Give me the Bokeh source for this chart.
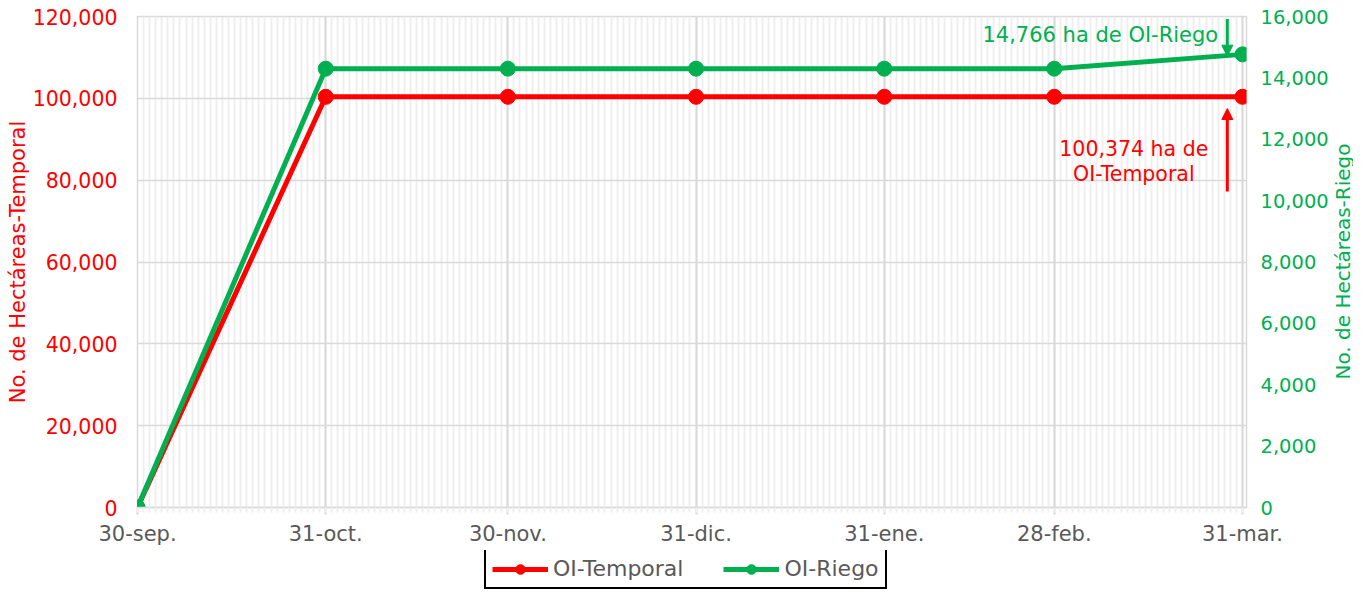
import math
import pandas as pd
from bokeh.plotting import figure
from bokeh.layouts import column, row
from bokeh.models import (Range1d, LinearAxis, FixedTicker, NumeralTickFormatter, Legend,
                          LegendItem, Label, Arrow, NormalHead, ColumnDataSource)
from bokeh.embed import file_html
from bokeh.resources import INLINE

# ---------------- data ----------------
dates = ["2022-09-30", "2022-10-31", "2022-11-30", "2022-12-31",
         "2023-01-31", "2023-02-28", "2023-03-31"]
date_labels = ["30-sep.", "31-oct.", "30-nov.", "31-dic.", "31-ene.", "28-feb.", "31-mar."]
oi_temporal = [0, 100374, 100374, 100374, 100374, 100374, 100374]
oi_riego = [0, 14300, 14300, 14300, 14300, 14300, 14766]
temporal_ticks = [0, 20000, 40000, 60000, 80000, 100000, 120000]
riego_ticks = [0, 2000, 4000, 6000, 8000, 10000, 12000, 14000, 16000]
title_text = "Ciclo OI"
series_names = ["OI-Temporal", "OI-Riego"]
left_title = "No. de Hectáreas-Temporal"
right_title = "No. de Hectáreas-Riego"

# ---------------- styles ----------------
FONT = "DejaVu Sans"
RED = "#ff0000"
GREEN = "#00b050"
GRAY = "#595959"
GRID = "#d9d9d9"

d = pd.to_datetime(dates)
day = [int((x - d[0]).days) for x in d]
all_days = list(range(day[0], day[-1] + 1))

src = ColumnDataSource(dict(day=day, temporal=oi_temporal, riego=oi_riego))
xr = Range1d(0, 182.66)

# ---------------- thin title strip (title mostly above the visible area) ----------------
pt = figure(width=1331, height=6, output_backend="svg", toolbar_location=None,
            x_axis_type=None, y_axis_type=None, x_range=xr, y_range=Range1d(0, 6),
            min_border_left=137, min_border_right=82, min_border_top=0, min_border_bottom=0)
pt.outline_line_color = None
pt.background_fill_color = "white"
pt.border_fill_color = "white"
pt.add_layout(Label(x=89.4, y=0, text=title_text, text_align="center",
                    text_baseline="alphabetic", text_font=FONT, text_font_size="24px",
                    text_color=GRAY))

# ---------------- main chart ----------------
p = figure(width=1331, height=544, output_backend="svg", toolbar_location=None,
           x_range=xr, y_range=Range1d(0, 120000),
           min_border_left=137, min_border_right=82, min_border_top=10, min_border_bottom=43)
p.extra_y_ranges = {"riego": Range1d(0, 16000)}
p.background_fill_color = "white"
p.border_fill_color = "white"
p.outline_line_color = GRID
p.outline_line_width = 1.5

# x axis
xax = p.xaxis[0]
xax.ticker = FixedTicker(ticks=day, minor_ticks=all_days)
xax.major_label_overrides = {k: v for k, v in zip(day, date_labels)}
xax.major_label_text_font = FONT
xax.major_label_text_font_size = "21px"
xax.major_label_text_color = GRAY
xax.axis_line_color = GRID
xax.axis_line_width = 1.5
xax.major_tick_line_color = GRID
xax.major_tick_line_width = 2
xax.major_tick_out = 7
xax.major_tick_in = 0
xax.minor_tick_line_color = "#f0f0f0"
xax.minor_tick_line_width = 2
xax.minor_tick_out = 5
xax.minor_tick_in = 0
xax.major_label_standoff = 7

# left axis
yax = p.yaxis[0]
yax.ticker = FixedTicker(ticks=temporal_ticks)
yax.formatter = NumeralTickFormatter(format="0,0")
yax.major_label_text_font = FONT
yax.major_label_text_font_size = "20.5px"
yax.major_label_text_color = RED
yax.axis_label = left_title
yax.axis_label_text_font = FONT
yax.axis_label_text_font_size = "21px"
yax.axis_label_text_font_style = "normal"
yax.axis_label_text_color = RED
yax.axis_line_color = None
yax.major_tick_line_color = None
yax.minor_tick_line_color = None
yax.major_tick_out = 0
yax.major_tick_in = 0
yax.minor_tick_out = 0
yax.major_label_standoff = 20
yax.axis_label_standoff = 0

# right axis (its title is drawn in the narrow strip to the right)
rax = LinearAxis(y_range_name="riego", ticker=FixedTicker(ticks=riego_ticks),
                 formatter=NumeralTickFormatter(format="0,0"))
rax.major_label_text_font = FONT
rax.major_label_text_font_size = "19.5px"
rax.major_label_text_color = GREEN
rax.axis_line_color = None
rax.major_tick_line_color = None
rax.minor_tick_line_color = None
rax.major_tick_out = 0
rax.major_tick_in = 0
rax.minor_tick_out = 0
rax.major_label_standoff = 14
p.add_layout(rax, "right")

# grids
p.xgrid.grid_line_color = GRID
p.xgrid.grid_line_width = 2
p.xgrid.minor_grid_line_color = "#efefef"
p.xgrid.minor_grid_line_width = 2
p.ygrid.grid_line_color = GRID
p.ygrid.grid_line_width = 1.5

# series
p.line("day", "temporal", source=src, line_color=RED, line_width=5)
p.scatter("day", "temporal", source=src, size=15, fill_color=RED, line_color=RED)
p.line("day", "riego", source=src, line_color=GREEN, line_width=5, y_range_name="riego")
p.scatter("day", "riego", source=src, size=15, fill_color=GREEN, line_color=GREEN,
          y_range_name="riego")

# annotations
p.add_layout(Label(x=178.0, y=115600, text=f"{oi_riego[-1]:,} ha de {series_names[1]}",
                   text_align="right", text_baseline="middle", text_font=FONT,
                   text_font_size="21px", text_color=GREEN))
p.add_layout(Label(x=164.1, y=87495, text=f"{oi_temporal[-1]:,} ha de",
                   text_align="center", text_baseline="middle", text_font=FONT,
                   text_font_size="20.5px", text_color=RED))
p.add_layout(Label(x=164.1, y=81385, text=series_names[0],
                   text_align="center", text_baseline="middle", text_font=FONT,
                   text_font_size="20.5px", text_color=RED))
p.add_layout(Arrow(end=NormalHead(size=11, fill_color=GREEN, line_color=GREEN),
                   x_start=179.5, y_start=119364, x_end=179.5, y_end=110298,
                   line_color=GREEN, line_width=3))
p.add_layout(Arrow(end=NormalHead(size=11, fill_color=RED, line_color=RED),
                   x_start=179.5, y_start=77230, x_end=179.5, y_end=97515,
                   line_color=RED, line_width=3))

# ---------------- right strip with the rotated right-axis title ----------------
pr = figure(width=22, height=544, output_backend="svg", toolbar_location=None,
            x_axis_type=None, y_axis_type=None, x_range=Range1d(0, 22), y_range=p.y_range,
            min_border_left=0, min_border_right=0, min_border_top=10, min_border_bottom=43)
pr.outline_line_color = None
pr.background_fill_color = "white"
pr.border_fill_color = "white"
pr.add_layout(Label(x=11, y=60122, text=right_title, angle=math.pi / 2,
                    text_align="center", text_baseline="middle", text_font=FONT,
                    text_font_size="20px", text_color=GREEN))

# ---------------- legend strip below the chart ----------------
pl = figure(width=1353, height=39, output_backend="svg", toolbar_location=None,
            x_axis_type=None, y_axis_type=None, x_range=Range1d(-20, -10),
            y_range=Range1d(-20, -10),
            min_border_left=137, min_border_right=104, min_border_top=0, min_border_bottom=0)
pl.outline_line_color = None
pl.background_fill_color = "white"
pl.border_fill_color = "white"
gl_t = pl.line("day", "temporal", source=src, line_color=RED, line_width=5)
gs_t = pl.scatter("day", "temporal", source=src, size=15, fill_color=RED, line_color=RED)
gl_r = pl.line("day", "riego", source=src, line_color=GREEN, line_width=5)
gs_r = pl.scatter("day", "riego", source=src, size=15, fill_color=GREEN, line_color=GREEN)

legend = Legend(items=[LegendItem(label=series_names[0], renderers=[gl_t, gs_t]),
                       LegendItem(label=series_names[1], renderers=[gl_r, gs_r])],
                orientation="horizontal", location=(347, 0), margin=0,
                glyph_width=56, glyph_height=24, label_standoff=5, spacing=40, padding=6,
                border_line_color="black", border_line_width=2, border_line_alpha=1,
                background_fill_color="white", background_fill_alpha=1,
                label_text_font=FONT, label_text_font_size="22px", label_text_color=GRAY)
pl.add_layout(legend)

layout = column(pt, row(p, pr, spacing=0), pl, spacing=0)
open("out.html", "w").write(file_html(layout, INLINE))
